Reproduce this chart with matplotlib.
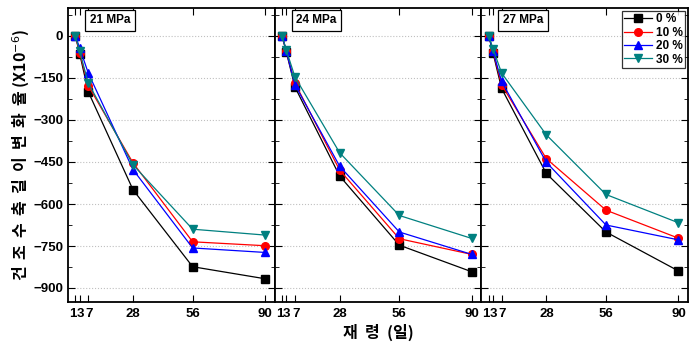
import matplotlib
matplotlib.use("Agg")
import matplotlib.pyplot as plt
import matplotlib.transforms as mtrans
from matplotlib.ticker import MultipleLocator

plt.rcParams['font.family'] = ['Liberation Sans', 'Noto Sans CJK KR', 'DejaVu Sans']

days = [1, 3, 7, 28, 56, 90]
day_labels = ["1", "3", "7", "28", "56", "90"]
panels = ["21 MPa", "24 MPa", "27 MPa"]
series_labels = ["0 %", "10 %", "20 %", "30 %"]

p21_0 = [0, -64, -199, -549, -824, -867]
p21_10 = [0, -60, -177, -453, -735, -749]
p21_20 = [0, -43, -132, -477, -757, -773]
p21_30 = [0, -55, -168, -460, -690, -711]

p24_0 = [0, -58, -182, -500, -747, -842]
p24_10 = [0, -55, -168, -479, -724, -780]
p24_20 = [0, -55, -174, -465, -700, -780]
p24_30 = [0, -51, -146, -417, -641, -723]

p27_0 = [0, -61, -187, -491, -700, -839]
p27_10 = [0, -55, -174, -438, -622, -722]
p27_20 = [0, -55, -162, -451, -675, -728]
p27_30 = [0, -46, -132, -353, -566, -667]

data = [[p21_0, p21_10, p21_20, p21_30],
        [p24_0, p24_10, p24_20, p24_30],
        [p27_0, p27_10, p27_20, p27_30]]

colors = ["black", "red", "blue", "#008080"]
markers = ["s", "o", "^", "v"]

fig = plt.figure(figsize=(6.92, 3.44), dpi=100)
L, R, B, T = 68 / 692, 688 / 692, 1 - 302 / 344, 1 - 8 / 344
w = (R - L) / 3
axes = []
for i in range(3):
    ax = fig.add_axes([L + i * w, B, w, T - B])
    axes.append(ax)
    for j in range(4):
        ax.plot(days, data[i][j], color=colors[j], marker=markers[j],
                markersize=5.5, linewidth=0.9, label=series_labels[j])
    ax.set_xlim(-2.5, 94.5)
    ax.set_ylim(-950, 100)
    ax.set_xticks(days)
    ax.set_xticklabels(day_labels, fontsize=9.5, fontweight='bold')
    ax.yaxis.set_major_locator(MultipleLocator(150))
    ax.yaxis.set_minor_locator(MultipleLocator(75))
    ax.grid(axis='y', linestyle=':', color='#c0c0c0', linewidth=0.8)
    ax.tick_params(direction='in', which='both', top=True, right=True, labelsize=9.5)
    ax.tick_params(axis='x', which='major', length=5, pad=4)
    ax.tick_params(axis='y', which='major', length=5)
    ax.tick_params(axis='y', which='minor', length=3)
    for s in ax.spines.values():
        s.set_linewidth(1.3)
    # nudge the crowded 1 / 3 / 7 labels apart
    xl = ax.get_xticklabels()
    shifts = [-2.5, 0.5, 1.0, 0, 0, 0]
    for lab, dx in zip(xl, shifts):
        lab.set_transform(lab.get_transform() +
                          mtrans.ScaledTranslation(dx / 100, 0, fig.dpi_scale_trans))
    if i > 0:
        ax.set_yticklabels([])
    else:
        for lab in ax.get_yticklabels():
            lab.set_fontweight('bold')
    ax.text(0.105, 0.958, panels[i], transform=ax.transAxes, fontsize=8.5,
            fontweight='bold', va='center', ha='left',
            bbox=dict(boxstyle='square,pad=0.4', facecolor='white',
                      edgecolor='black', linewidth=0.9))

axes[0].set_ylabel("건  조  수  축  길  이  변  화  율 (X10$^{-6}$)", fontsize=11.5,
                   fontweight='bold', family=['Noto Sans CJK KR', 'DejaVu Sans'], labelpad=1)
axes[1].set_xlabel("재  령  (일)", fontsize=11.5, fontweight='bold',
                   family=['Noto Sans CJK KR', 'DejaVu Sans'], labelpad=3)

leg = axes[2].legend(loc='upper right', frameon=True, fancybox=False,
                     edgecolor='black', handlelength=2.4, handletextpad=0.3,
                     borderpad=0.2, labelspacing=0.12, borderaxespad=0.25,
                     prop={'weight': 'bold', 'size': 8.5})
leg.get_frame().set_linewidth(0.9)

fig.savefig("out.png", dpi=100)
